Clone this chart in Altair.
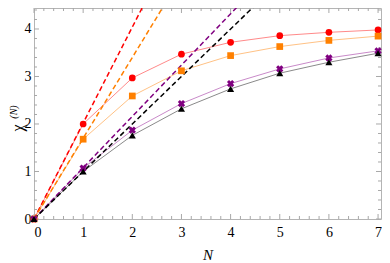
import altair as alt
import pandas as pd

# ---- data ----
N = [0, 1, 2, 3, 4, 5, 6, 7]
chi_red = [0.0, 2.00, 2.97, 3.47, 3.72, 3.86, 3.93, 3.98]
chi_orange = [0.0, 1.68, 2.59, 3.12, 3.44, 3.63, 3.76, 3.85]
chi_purple = [0.0, 1.07, 1.87, 2.43, 2.85, 3.16, 3.39, 3.54]
chi_black = [0.0, 1.00, 1.76, 2.32, 2.74, 3.07, 3.30, 3.49]
slopes = [2.02, 1.70, 1.08, 1.00]          # dashed asymptotic lines chi = slope * N
dash_N = [0, 7]

x_major = [0, 1, 2, 3, 4, 5, 6, 7]
y_major = [0, 1, 2, 3, 4]
x_minor = [i / 5 for i in range(0, 36) if i % 5]
y_minor = [i / 5 for i in range(0, 23) if i % 5]

series = [chi_red, chi_orange, chi_purple, chi_black]
marker_colors = ["#ff0000", "#ff8000", "#800080", "#000000"]
line_colors = ["#ff8a8a", "#ffc285", "#c98ac9", "#8a8a8a"]
shapes = ["circle", "square", "cross", "triangle-up"]
angles = [0, 0, 45, 0]
sizes = [45, 45, 55, 50]

W, H = 347, 211
xs = alt.Scale(domain=[0, 7.06], nice=False, zero=False)
ys = alt.Scale(domain=[0, 4.442], nice=False, zero=False)
FONT = "Liberation Serif"
TICK = "#a8a8a8"

x_axis = alt.Axis(values=x_major, tickSize=0, domain=False, grid=False,
                  labelFont=FONT, labelFontSize=14, labelColor="black",
                  labelPadding=6, title="N", titleFont=FONT, titleFontSize=15,
                  titleFontStyle="italic", titleFontWeight="normal",
                  titleColor="black", titlePadding=8)
y_axis = alt.Axis(values=y_major, tickSize=0, domain=False, grid=False,
                  labelFont=FONT, labelFontSize=14, labelColor="black",
                  labelPadding=3, title=None)

layers = []

# tick marks (inward, on all four sides)
def tick_layer(vals, axis, length):
    df = pd.DataFrame({"v": vals})
    base = alt.Chart(df).mark_rule(color=TICK, strokeWidth=1)
    if axis == "x":
        return [
            base.encode(x=alt.X("v:Q", scale=xs, axis=x_axis), y=alt.value(H), y2=alt.value(H - length)),
            base.encode(x=alt.X("v:Q", scale=xs, axis=x_axis), y=alt.value(0), y2=alt.value(length)),
        ]
    return [
        base.encode(y=alt.Y("v:Q", scale=ys, axis=y_axis), x=alt.value(0), x2=alt.value(length)),
        base.encode(y=alt.Y("v:Q", scale=ys, axis=y_axis), x=alt.value(W), x2=alt.value(W - length)),
    ]

layers += tick_layer(x_major, "x", 5)
layers += tick_layer(x_minor, "x", 3)
layers += tick_layer(y_major, "y", 5)
layers += tick_layer(y_minor, "y", 3)

for i, vals in enumerate(series):
    df = pd.DataFrame({"N": N, "chi": vals})
    layers.append(
        alt.Chart(df).mark_line(color=line_colors[i], strokeWidth=1).encode(
            x=alt.X("N:Q", scale=xs, axis=x_axis), y=alt.Y("chi:Q", scale=ys, axis=y_axis))
    )

for i, k in enumerate(slopes):
    ddf = pd.DataFrame({"N": dash_N, "chi": [k * n for n in dash_N]})
    layers.append(
        alt.Chart(ddf).mark_line(color=marker_colors[i], strokeWidth=1.5,
                                 strokeDash=[5, 3], clip=True).encode(
            x=alt.X("N:Q", scale=xs, axis=x_axis), y=alt.Y("chi:Q", scale=ys, axis=y_axis))
    )

for i, vals in enumerate(series):
    df = pd.DataFrame({"N": N, "chi": vals})
    layers.append(
        alt.Chart(df).mark_point(shape=shapes[i], filled=True, opacity=1,
                                 color=marker_colors[i], size=sizes[i],
                                 angle=angles[i]).encode(
            x=alt.X("N:Q", scale=xs, axis=x_axis), y=alt.Y("chi:Q", scale=ys, axis=y_axis))
    )

# y-axis title  chi^(N)
tdf = pd.DataFrame({"t": [0]})
layers.append(alt.Chart(tdf).mark_text(text="χ", font=FONT, fontSize=16, angle=270,
                                       align="center", baseline="middle", color="black")
              .encode(x=alt.value(-16), y=alt.value(120)))
layers.append(alt.Chart(tdf).mark_text(text="(N)", font=FONT, fontSize=10, fontStyle="italic",
                                       angle=270, align="center", baseline="middle", color="black")
              .encode(x=alt.value(-20), y=alt.value(104)))

chart = alt.layer(*layers).properties(
    width=W, height=H,
    autosize=alt.AutoSizeParams(type="none"),
    padding={"left": 26, "top": 0, "right": 1, "bottom": 44},
).configure_view(stroke="#b4b4b4", strokeWidth=1)

chart.save("out.html", embed_options={"renderer": "svg", "actions": False})
